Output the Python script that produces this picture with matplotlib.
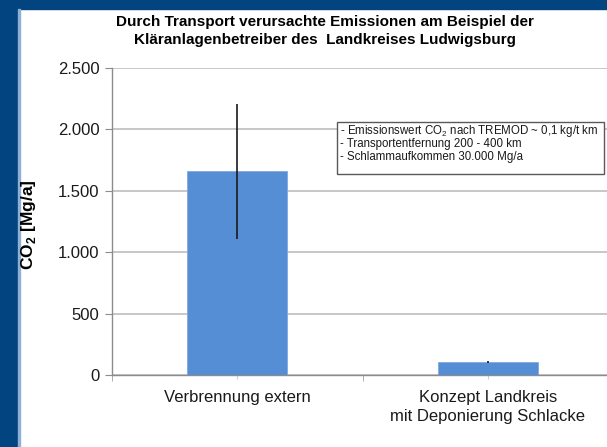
import matplotlib
matplotlib.use("Agg")
import matplotlib.pyplot as plt
from matplotlib.patches import Rectangle

plt.rcParams['font.family'] = ['Liberation Sans', 'DejaVu Sans']
plt.rcParams['mathtext.fontset'] = 'custom'
plt.rcParams['mathtext.rm'] = 'Liberation Sans'
plt.rcParams['mathtext.bf'] = 'Liberation Sans:bold'

categories = ["Verbrennung extern", "Konzept Landkreis\nmit Deponierung Schlacke"]
values = [1660, 108]
errors = [550, 10]
yticks = [0, 500, 1000, 1500, 2000, 2500]
ytick_labels = ["0", "500", "1.000", "1.500", "2.000", "2.500"]
title = "Durch Transport verursachte Emissionen am Beispiel der\nKläranlagenbetreiber des  Landkreises Ludwigsburg"
note_lines = ["- Emissionswert CO$_\\mathregular{2}$ nach TREMOD ~ 0,1 kg/t km",
              "- Transportentfernung 200 - 400 km",
              "- Schlammaufkommen 30.000 Mg/a"]

W, H = 607, 447
fig = plt.figure(figsize=(W/100, H/100), dpi=100)
fig.patch.set_facecolor('white')

# dark blue frame (left and top)
blue = '#02447f'
fig.patches.append(Rectangle((0, 0), 18/W, 1, transform=fig.transFigure, color=blue, zorder=0))
fig.patches.append(Rectangle((0, 1 - 9/H), 1, 9/H, transform=fig.transFigure, color=blue, zorder=0))
fig.patches.append(Rectangle((18/W, 0), 1.5/W, 1 - 9/H, transform=fig.transFigure, color='#8fb0d6', zorder=0))

ax = fig.add_axes([112/W, (H-375)/H, 501/W, 307/H])
x = list(range(len(categories)))
ax.bar(x, values, width=0.4, color='#558ed5', edgecolor='#7fa9e0', linewidth=0.6, zorder=3)
ax.errorbar(x, values, yerr=errors, fmt='none', ecolor='#1a1a1a', elinewidth=1.2, capsize=0, zorder=4)

ax.set_xlim(-0.5, 1.5)
ax.set_ylim(0, 2500)
ax.set_yticks(yticks)
ax.set_yticklabels(ytick_labels, fontsize=12, color='#1a1a1a')
ax.set_xticks(x)
ax.set_xticklabels(categories, fontsize=12, color='#1a1a1a', linespacing=1.3)
ax.set_xticks([-0.5, 0.5, 1.5], minor=True)
ax.tick_params(axis='x', which='major', length=3, color='#d0d0d0', pad=8)
ax.tick_params(axis='x', which='minor', length=4, color='#a0a0a0')
ax.tick_params(axis='y', length=5, color='#8c8c8c', pad=4)

ax.grid(axis='y', color='#bdbdbd', linewidth=1.2, zorder=0)
ax.set_axisbelow(True)
for s in ['top', 'right']:
    ax.spines[s].set_visible(False)
for s in ['left', 'bottom']:
    ax.spines[s].set_color('#8c8c8c')
    ax.spines[s].set_linewidth(1.0)

fig.text(29/W, 1 - 225/H, "CO$_\\mathbf{2}$ [Mg/a]", rotation=90, fontsize=12.5,
         fontweight='bold', ha='center', va='center')

fig.text(325/W, 1 - 31/H, title, fontsize=11, fontweight='bold', ha='center', va='center',
         linespacing=1.45)

# note box
fig.patches.append(Rectangle((337/W, 1 - 174/H), (604-337)/W, (174-122)/H, transform=fig.transFigure,
                             facecolor='white', edgecolor='#595959', linewidth=1.0, zorder=5))
for i, line in enumerate(note_lines):
    fig.text(340/W, 1 - (131 + 13*i)/H, line, fontsize=8.3, ha='left', va='center', zorder=6,
             color='#1a1a1a')

fig.savefig("out.png", dpi=100)
